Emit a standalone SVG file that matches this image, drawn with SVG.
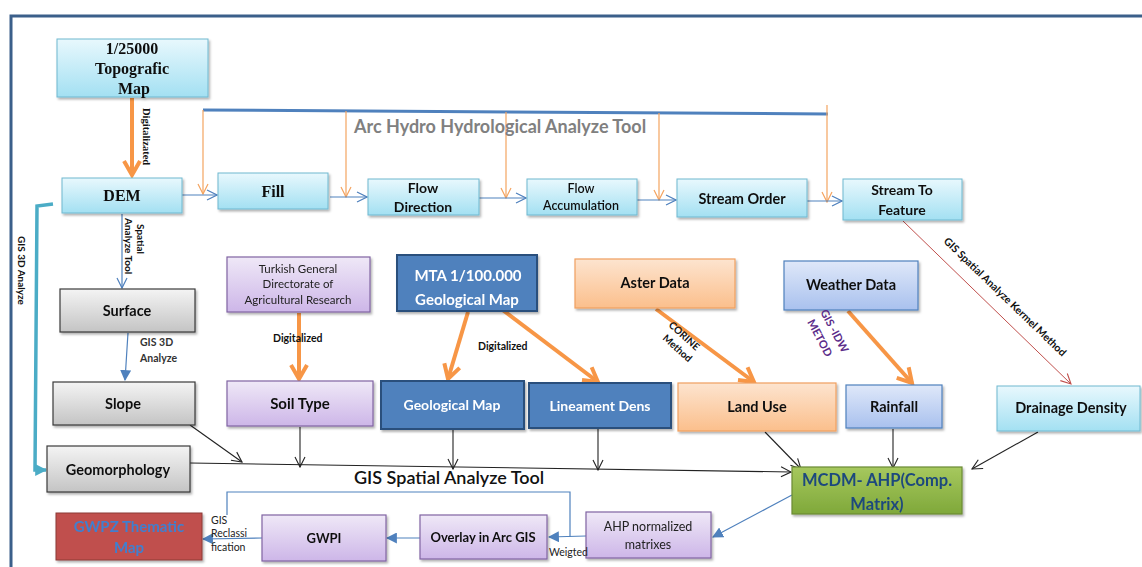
<svg xmlns="http://www.w3.org/2000/svg" width="1142" height="567" viewBox="0 0 1142 567">
  <style>
    .serif { font-family: "Liberation Serif", "DejaVu Serif", serif; font-weight: bold; fill: #111; }
    .sans { font-family: Lato, "Open Sans", "Liberation Sans", sans-serif; font-weight: bold; fill: #111; }
    .reg { font-family: Lato, "Open Sans", "Liberation Sans", sans-serif; fill: #222; }
    .cyan { fill: url(#gCyan); stroke: #6fb8d0; stroke-width: 1; }
    .gray { fill: url(#gGray); stroke: #3a3a3a; stroke-width: 1.2; }
    .purple { fill: url(#gPurple); stroke: #8064a2; stroke-width: 1.2; }
    .blue { fill: #4f81bd; stroke: #2c4f7c; stroke-width: 2; }
    .orange { fill: url(#gOrange); stroke: #f0a060; stroke-width: 1.2; }
    .peri { fill: url(#gPeri); stroke: #4f81bd; stroke-width: 1.2; }
    .green { fill: url(#gGreen); stroke: #6b8a35; stroke-width: 1.2; }
    .red { fill: #c0504d; stroke: #8c3836; stroke-width: 1; }
    .box { filter: url(#shadow); }
    .thinBlue { stroke: #4f81bd; stroke-width: 1.2; fill: none; }
    .thinOrange { stroke: #f4a460; stroke-width: 1.2; fill: none; }
    .thickOrange { stroke: #f79646; stroke-width: 4; fill: none; }
    .black { stroke: #222; stroke-width: 1.1; fill: none; }
    .mid { text-anchor: middle; }
  </style>
  <defs>
    <linearGradient id="gCyan" x1="0" y1="0" x2="0" y2="1">
      <stop offset="0" stop-color="#e8f8fd"/>
      <stop offset="1" stop-color="#a3e0f2"/>
    </linearGradient>
    <linearGradient id="gGray" x1="0" y1="0" x2="0" y2="1">
      <stop offset="0" stop-color="#f4f4f4"/>
      <stop offset="1" stop-color="#c4c4c4"/>
    </linearGradient>
    <linearGradient id="gPurple" x1="0" y1="0" x2="0" y2="1">
      <stop offset="0" stop-color="#efe8f7"/>
      <stop offset="1" stop-color="#cdb6e8"/>
    </linearGradient>
    <linearGradient id="gOrange" x1="0" y1="0" x2="0" y2="1">
      <stop offset="0" stop-color="#fde4cf"/>
      <stop offset="1" stop-color="#fbbf8c"/>
    </linearGradient>
    <linearGradient id="gPeri" x1="0" y1="0" x2="0" y2="1">
      <stop offset="0" stop-color="#dfe8f9"/>
      <stop offset="1" stop-color="#a9c1ee"/>
    </linearGradient>
    <linearGradient id="gGreen" x1="0" y1="0" x2="0" y2="1">
      <stop offset="0" stop-color="#a6c85e"/>
      <stop offset="1" stop-color="#7fa83a"/>
    </linearGradient>
    <filter id="shadow" x="-10%" y="-10%" width="125%" height="140%">
      <feDropShadow dx="1.5" dy="2" stdDeviation="1.2" flood-color="#000" flood-opacity="0.3"/>
    </filter>
    <marker id="openBlue" viewBox="0 0 12 12" refX="11" refY="6" markerWidth="12" markerHeight="12" markerUnits="userSpaceOnUse" orient="auto">
      <path d="M1,1 L11,6 L1,11" fill="none" stroke="#4f81bd" stroke-width="1.2"/>
    </marker>
    <marker id="openOrange" viewBox="0 0 12 12" refX="11" refY="6" markerWidth="12" markerHeight="12" markerUnits="userSpaceOnUse" orient="auto">
      <path d="M1,1 L11,6 L1,11" fill="none" stroke="#f4a460" stroke-width="1.2"/>
    </marker>
    <marker id="openBlack" viewBox="0 0 12 12" refX="11" refY="6" markerWidth="12" markerHeight="12" markerUnits="userSpaceOnUse" orient="auto">
      <path d="M1,1 L11,6 L1,11" fill="none" stroke="#222" stroke-width="1.1"/>
    </marker>
    <marker id="openRed" viewBox="0 0 12 12" refX="11" refY="6" markerWidth="12" markerHeight="12" markerUnits="userSpaceOnUse" orient="auto">
      <path d="M1,1 L11,6 L1,11" fill="none" stroke="#c0504d" stroke-width="1.1"/>
    </marker>
    <marker id="bigOrange" viewBox="0 0 20 20" refX="17" refY="10" markerWidth="20" markerHeight="20" markerUnits="userSpaceOnUse" orient="auto">
      <path d="M3,2 L17,10 L3,18" fill="none" stroke="#f79646" stroke-width="4" stroke-linejoin="miter"/>
    </marker>
    <marker id="fillBlue" viewBox="0 0 10 10" refX="9" refY="5" markerWidth="11" markerHeight="11" markerUnits="userSpaceOnUse" orient="auto">
      <path d="M0,0 L10,5 L0,10 Z" fill="#4f81bd"/>
    </marker>
    <marker id="fillTeal" viewBox="0 0 10 10" refX="9" refY="5" markerWidth="12" markerHeight="12" markerUnits="userSpaceOnUse" orient="auto">
      <path d="M0,0 L10,5 L0,10 Z" fill="#4bacc6"/>
    </marker>
  </defs>

  <rect x="0" y="0" width="1142" height="567" fill="#ffffff"/>
  <!-- frame -->
  <path d="M11,567 L11,16 L1142,16" fill="none" stroke="#3b5f8a" stroke-width="3"/>

  <!-- connectors -->
  <g id="connectors">
    <!-- hydrology tool bar -->
    <line x1="203" y1="110" x2="828" y2="114" stroke="#4f81bd" stroke-width="3"/>
    <line class="thinOrange" x1="203" y1="110" x2="203" y2="194" marker-end="url(#openOrange)"/>
    <line class="thinOrange" x1="346" y1="111" x2="346" y2="197" marker-end="url(#openOrange)"/>
    <line class="thinOrange" x1="506" y1="112" x2="506" y2="198" marker-end="url(#openOrange)"/>
    <line class="thinOrange" x1="659" y1="113" x2="659" y2="200" marker-end="url(#openOrange)"/>
    <line class="thinOrange" x1="827" y1="105" x2="827" y2="202" marker-end="url(#openOrange)"/>

    <!-- process chain -->
    <line class="thinBlue" x1="182" y1="195" x2="217" y2="195" marker-end="url(#openBlue)"/>
    <line class="thinBlue" x1="330" y1="197" x2="367" y2="197" marker-end="url(#openBlue)"/>
    <line class="thinBlue" x1="479" y1="198" x2="526" y2="198" marker-end="url(#openBlue)"/>
    <line class="thinBlue" x1="637" y1="200" x2="676" y2="200" marker-end="url(#openBlue)"/>
    <line class="thinBlue" x1="807" y1="201" x2="842" y2="201" marker-end="url(#openBlue)"/>

    <!-- topo map to DEM -->
    <line class="thickOrange" x1="132" y1="98" x2="132" y2="175" marker-end="url(#bigOrange)"/>

    <!-- DEM to surface -->
    <line class="thinBlue" x1="122" y1="214" x2="122" y2="288" marker-end="url(#openBlue)"/>
    <!-- surface to slope -->
    <line class="thinBlue" x1="128" y1="333" x2="125" y2="380" marker-end="url(#fillBlue)"/>

    <!-- GIS 3D analyze bracket -->
    <path d="M53,204 L37,206 L35,470 L46,470" fill="none" stroke="#4bacc6" stroke-width="3.5" marker-end="url(#fillTeal)"/>

    <!-- source to derived layers -->
    <line class="thickOrange" x1="299" y1="313" x2="299" y2="379" marker-end="url(#bigOrange)"/>
    <line class="thickOrange" x1="468" y1="312" x2="448" y2="379" marker-end="url(#bigOrange)"/>
    <line class="thickOrange" x1="500" y1="308" x2="598" y2="382" marker-end="url(#bigOrange)"/>
    <line class="thickOrange" x1="656" y1="309" x2="754" y2="382" marker-end="url(#bigOrange)"/>
    <line class="thickOrange" x1="848" y1="311" x2="912" y2="383" marker-end="url(#bigOrange)"/>
    <line stroke="#c0504d" stroke-width="1" x1="903" y1="221" x2="1071" y2="384" marker-end="url(#openRed)"/>

    <!-- layers into MCDM -->
    <line class="black" x1="190" y1="425" x2="242" y2="462" marker-end="url(#openBlack)"/>
    <line class="black" x1="190" y1="463" x2="791" y2="472" marker-end="url(#openBlack)"/>
    <line class="black" x1="300" y1="427" x2="300" y2="467" marker-end="url(#openBlack)"/>
    <line class="black" x1="453" y1="430" x2="453" y2="469" marker-end="url(#openBlack)"/>
    <line class="black" x1="598" y1="429" x2="598" y2="470" marker-end="url(#openBlack)"/>
    <line class="black" x1="765" y1="432" x2="801" y2="469" marker-end="url(#openBlack)"/>
    <line class="black" x1="893" y1="429" x2="893" y2="468" marker-end="url(#openBlack)"/>
    <line class="black" x1="1038" y1="432" x2="972" y2="469" marker-end="url(#openBlack)"/>

    <!-- output chain -->
    <line class="thinBlue" x1="792" y1="495" x2="713" y2="537" marker-end="url(#fillBlue)"/>
    <line class="thinBlue" x1="586" y1="536" x2="549" y2="537" marker-end="url(#fillBlue)"/>
    <path class="thinBlue" d="M570,537 L570,492 L227,492 L227,515"/>
    <line class="thinBlue" x1="420" y1="538" x2="387" y2="538" marker-end="url(#fillBlue)"/>
    <line class="thinBlue" x1="262" y1="538" x2="203" y2="539" marker-end="url(#fillBlue)"/>
  </g>

  <!-- nodes -->
  <g id="topo" class="box">
    <rect class="cyan" x="57" y="39" width="151" height="58"/>
    <text class="serif mid" x="132" y="54" font-size="16">1/25000</text>
    <text class="serif mid" x="132" y="74" font-size="16">Topografic</text>
    <text class="serif mid" x="134" y="94" font-size="16">Map</text>
  </g>
  <g id="dem" class="box">
    <rect class="cyan" x="62" y="178" width="120" height="35"/>
    <text class="serif mid" x="122" y="201" font-size="16">DEM</text>
  </g>
  <g id="fill" class="box">
    <rect class="cyan" x="218" y="173" width="110" height="36"/>
    <text class="serif mid" x="273" y="197" font-size="16">Fill</text>
  </g>
  <g id="flowdir" class="box">
    <rect class="cyan" x="368" y="179" width="111" height="36"/>
    <text class="sans mid" x="423" y="193" font-size="14">Flow</text>
    <text class="sans mid" x="423" y="212" font-size="14">Direction</text>
  </g>
  <g id="flowacc" class="box">
    <rect class="cyan" x="527" y="179" width="110" height="36"/>
    <text class="sans mid" x="581" y="193" font-size="12.5" style="font-weight:600">Flow</text>
    <text class="sans mid" x="581" y="210" font-size="12.5" style="font-weight:600">Accumulation</text>
  </g>
  <g id="streamorder" class="box">
    <rect class="cyan" x="677" y="179" width="130" height="38"/>
    <text class="sans mid" x="742" y="204" font-size="14.5">Stream Order</text>
  </g>
  <g id="streamfeature" class="box">
    <rect class="cyan" x="843" y="179" width="119" height="41"/>
    <text class="sans mid" x="902" y="195" font-size="14">Stream To</text>
    <text class="sans mid" x="902" y="215" font-size="14">Feature</text>
  </g>
  <g id="surface" class="box">
    <rect class="gray" x="60" y="289" width="135" height="43"/>
    <text class="sans mid" x="127" y="316" font-size="14.5">Surface</text>
  </g>
  <g id="slope" class="box">
    <rect class="gray" x="53" y="382" width="142" height="43"/>
    <text class="sans mid" x="123" y="409" font-size="14.5">Slope</text>
  </g>
  <g id="geomorphology" class="box">
    <rect class="gray" x="47" y="446" width="143" height="46"/>
    <text class="sans mid" x="118" y="475" font-size="14.5">Geomorphology</text>
  </g>
  <g id="turkish" class="box">
    <rect class="purple" x="227" y="257" width="143" height="55"/>
    <text class="reg mid" x="298" y="273" font-size="11.5">Turkish General</text>
    <text class="reg mid" x="298" y="288" font-size="11.5">Directorate of</text>
    <text class="reg mid" x="298" y="304" font-size="11.5">Agricultural Research</text>
  </g>
  <g id="soiltype" class="box">
    <rect class="purple" x="227" y="381" width="146" height="45"/>
    <text class="sans mid" x="300" y="409" font-size="15">Soil Type</text>
  </g>
  <g id="mta" class="box">
    <rect class="blue" x="397" y="255" width="140" height="56"/>
    <text class="sans mid" x="468" y="281" font-size="15" style="fill:#fff">MTA  1/100.000</text>
    <text class="sans mid" x="467" y="305" font-size="15" style="fill:#fff">Geological Map</text>
  </g>
  <g id="geomap" class="box">
    <rect class="blue" x="381" y="381" width="143" height="48"/>
    <text class="sans mid" x="452" y="410" font-size="14" style="fill:#fff">Geological Map</text>
  </g>
  <g id="lineament" class="box">
    <rect class="blue" x="529" y="383" width="142" height="45"/>
    <text class="sans mid" x="600" y="411" font-size="14" style="fill:#fff">Lineament Dens</text>
  </g>
  <g id="aster" class="box">
    <rect class="orange" x="575" y="259" width="160" height="49"/>
    <text class="sans mid" x="655" y="288" font-size="14.5">Aster Data</text>
  </g>
  <g id="landuse" class="box">
    <rect class="orange" x="678" y="383" width="158" height="48"/>
    <text class="sans mid" x="757" y="412" font-size="14.5">Land Use</text>
  </g>
  <g id="weather" class="box">
    <rect class="peri" x="784" y="261" width="134" height="49"/>
    <text class="sans mid" x="851" y="290" font-size="14.5">Weather Data</text>
  </g>
  <g id="rainfall" class="box">
    <rect class="peri" x="846" y="385" width="96" height="43"/>
    <text class="sans mid" x="894" y="412" font-size="14.5">Rainfall</text>
  </g>
  <g id="drainage" class="box">
    <rect class="cyan" x="997" y="386" width="143" height="45"/>
    <text class="sans mid" x="1071" y="413" font-size="14.5">Drainage Density</text>
  </g>
  <g id="mcdm" class="box">
    <rect class="green" x="792" y="467" width="170" height="47"/>
    <text class="sans mid" x="877" y="486" font-size="16.5" style="fill:#1f497d">MCDM- AHP(Comp.</text>
    <text class="sans mid" x="877" y="510" font-size="16.5" style="fill:#1f497d">Matrix)</text>
  </g>
  <g id="ahp" class="box">
    <rect class="purple" x="586" y="512" width="125" height="46"/>
    <text class="reg mid" x="648" y="531" font-size="12.5">AHP normalized</text>
    <text class="reg mid" x="648" y="549" font-size="12.5">matrixes</text>
  </g>
  <g id="overlay" class="box">
    <rect class="purple" x="420" y="515" width="127" height="44"/>
    <text class="sans mid" x="483" y="542" font-size="13">Overlay in Arc GIS</text>
  </g>
  <g id="gwpi" class="box">
    <rect class="purple" x="262" y="515" width="124" height="46"/>
    <text class="sans mid" x="324" y="543" font-size="13">GWPI</text>
  </g>
  <g id="gwpz" class="box">
    <rect class="red" x="56" y="513" width="146" height="47"/>
    <text class="sans mid" x="129" y="532" font-size="15" style="fill:#3f7fcf">GWPZ Thematic</text>
    <text class="sans mid" x="129" y="553" font-size="15" style="fill:#3f7fcf">Map</text>
  </g>

  <!-- connector labels -->
  <g id="labels">
    <text class="sans" x="354" y="133" font-size="18" style="fill:#808080">Arc Hydro Hydrological Analyze Tool</text>
    <text class="serif" font-size="10.5" transform="translate(143,108) rotate(90)">Digitalizated</text>
    <text class="sans" font-size="10" transform="translate(137,224) rotate(90)">Spatial</text>
    <text class="sans" font-size="10" transform="translate(125,218) rotate(90)">Analyze Tool</text>
    <text class="sans" font-size="10" transform="translate(18,236) rotate(90)">GIS 3D Analyze</text>
    <text class="sans" font-size="10.5" x="140" y="346" style="fill:#333">GIS 3D</text>
    <text class="sans" font-size="10.5" x="140" y="362" style="fill:#333">Analyze</text>
    <text class="sans" font-size="10.5" x="273" y="342">Digitalized</text>
    <text class="sans" font-size="10.5" x="478" y="350">Digitalized</text>
    <text class="sans" font-size="10" transform="translate(668,326) rotate(42)">CORINE</text>
    <text class="sans" font-size="10" transform="translate(662,339) rotate(42)">Method</text>
    <text class="sans" font-size="11" transform="translate(820,312) rotate(62)" style="fill:#5b2c8a">GIS -IDW</text>
    <text class="sans" font-size="11" transform="translate(807,322) rotate(62)" style="fill:#5b2c8a">METOD</text>
    <text class="sans" font-size="10.5" transform="translate(943,242) rotate(44)">GIS Spatial Analyze Kermel Method</text>
    <text class="sans" font-size="18" x="354" y="484" style="font-weight:600">GIS Spatial Analyze Tool</text>
    <text class="reg" font-size="10.5" x="211" y="524">GIS</text>
    <text class="reg" font-size="10.5" x="211" y="537">Reclassi</text>
    <text class="reg" font-size="10.5" x="211" y="551">fication</text>
    <text class="reg" font-size="10.5" x="549" y="556">Weigted</text>
  </g>
</svg>
